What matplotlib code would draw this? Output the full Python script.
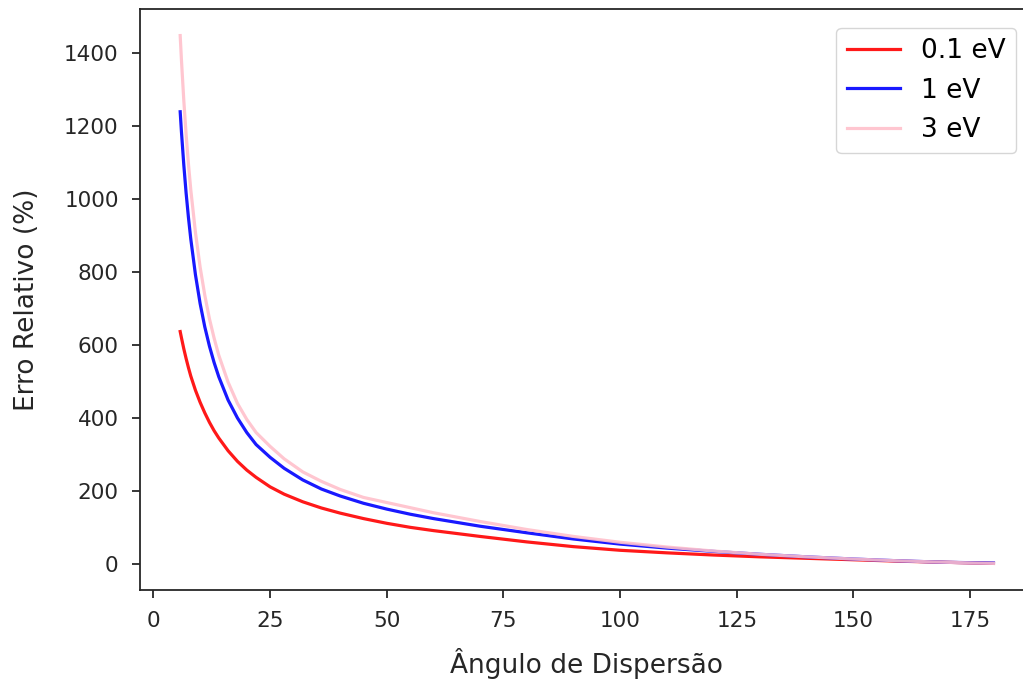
import matplotlib
matplotlib.use("Agg")
import matplotlib.pyplot as plt

angles = [5.73, 6, 6.5, 7, 7.5, 8, 9, 10, 11, 12, 13, 14, 16, 18, 20, 22, 25, 28, 32, 36,
          40, 45, 50, 55, 60, 70, 80, 90, 100, 110, 120, 130, 140, 150, 160, 170, 180]
err_01 = [637, 620, 590, 563, 538, 515, 476, 443, 414, 388, 365, 345, 310, 281, 257, 237, 211, 191, 170, 153,
          139, 124, 111, 100, 91, 75, 60, 47, 37, 30, 24, 19, 15, 11, 7, 4, 1]
err_1 = [1240, 1185, 1095, 1017, 950, 891, 793, 714, 650, 597, 552, 513, 449, 400, 360, 327, 292, 262, 230, 205,
         186, 166, 150, 136, 124, 103, 85, 68, 54, 43, 34, 26, 19, 13, 8, 4, 2]
err_3 = [1449, 1382, 1272, 1178, 1097, 1026, 909, 814, 737, 672, 619, 572, 498, 440, 396, 360, 322, 288, 252, 226,
         204, 182, 168, 154, 140, 116, 94, 75, 59, 46, 35, 26, 19, 13, 8, 4, 1]
labels = ["0.1 eV", "1 eV", "3 eV"]
colors = ["red", "blue", "pink"]

plt.rcParams['font.family'] = ['DejaVu Sans']
fig = plt.figure(figsize=(10.23, 6.81), dpi=100)
ax = fig.add_axes([0.1364, 0.1336, 0.8744, 0.8527])

for ys, lab, c in zip([err_01, err_1, err_3], labels, colors):
    ax.plot(angles, ys, color=c, lw=2.3, label=lab, alpha=0.9)

ax.set_xlim(-2.98, 188.7)
ax.set_ylim(-72, 1521)
ax.set_xticks([0, 25, 50, 75, 100, 125, 150, 175])
ax.set_yticks([0, 200, 400, 600, 800, 1000, 1200, 1400])
ax.tick_params(labelsize=15.5, length=6, width=1.3, pad=9, colors='#262626')
for s in ax.spines.values():
    s.set_linewidth(1.3)
    s.set_color('#262626')
ax.set_xlabel("Ângulo de Dispersão", fontsize=19, color='#262626', labelpad=12)
ax.set_ylabel("Erro Relativo (%)", fontsize=19, color='#262626', labelpad=17)
ax.legend(loc='upper right', bbox_to_anchor=(0.9799, 0.9681), borderaxespad=0, fontsize=19,
          framealpha=0.8, handlelength=2.0)

fig.savefig("out.png", dpi=100)
